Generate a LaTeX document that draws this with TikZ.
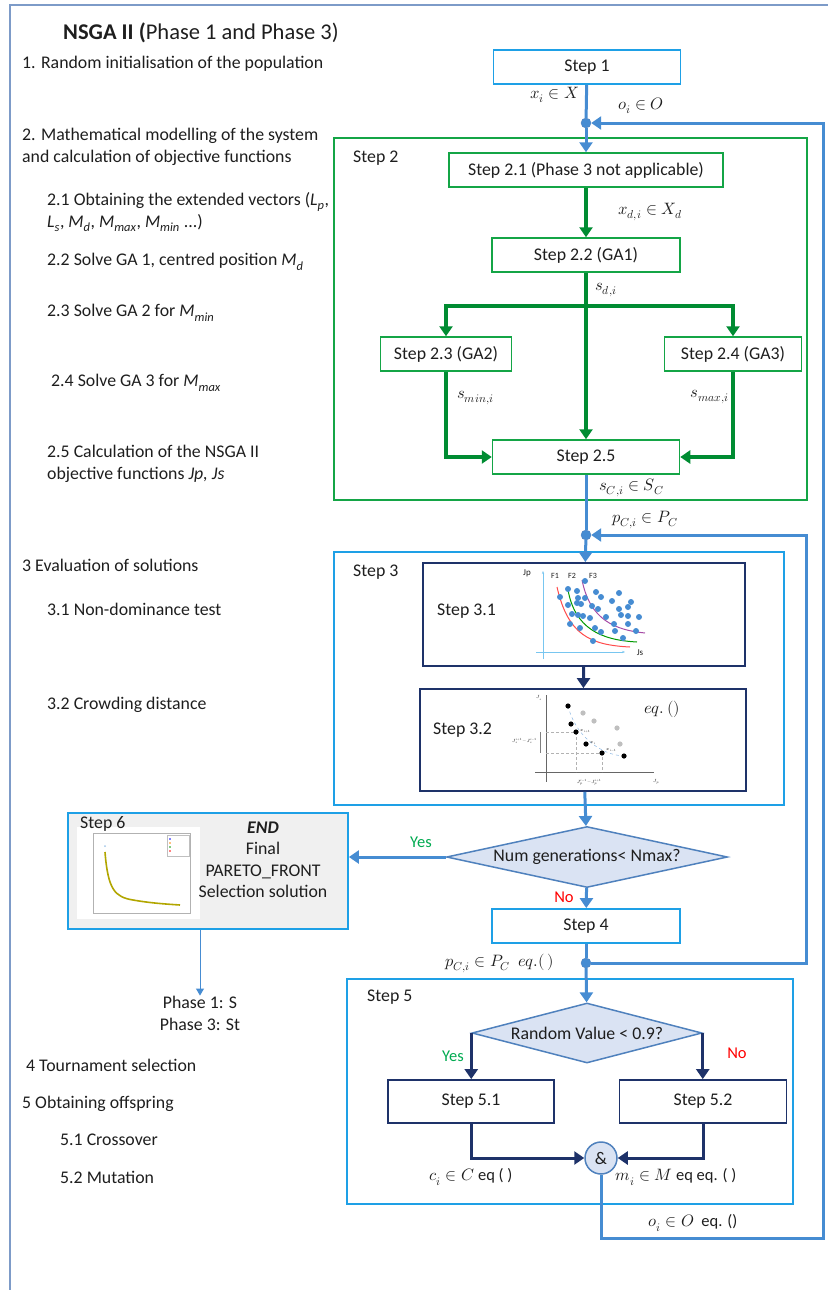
\documentclass[tikz,border=0pt]{standalone}
\usepackage{fontspec}
\setmainfont{Carlito}
\usepackage{unicode-math}
\usetikzlibrary{arrows.meta,shapes.geometric,positioning}

\definecolor{flowblue}{RGB}{70,140,210}
\definecolor{stepblue}{RGB}{30,160,230}
\definecolor{navy}{RGB}{30,50,105}
\definecolor{stepgreen}{RGB}{20,165,70}
\definecolor{arrowgreen}{RGB}{0,140,50}
\definecolor{decfill}{RGB}{218,227,243}
\definecolor{decblue}{RGB}{79,129,189}
\definecolor{framecol}{RGB}{125,155,200}
\definecolor{endgray}{RGB}{240,240,240}
\definecolor{textgray}{RGB}{30,30,30}
\definecolor{yesgreen}{RGB}{0,170,80}

\newcommand{\itsub}[2]{\textit{#1}\textsubscript{\textit{#2}}}

\begin{document}
\begin{tikzpicture}
  [x=1pt, y=-1pt, font=\fontsize{17.8}{22}\selectfont, text=textgray,
   item/.style={anchor=west, inner sep=0pt, align=left},
   bluebox/.style={draw=stepblue, line width=1.8pt, fill=white, minimum height=34pt},
   greenbox/.style={draw=stepgreen, line width=1.5pt, fill=white, minimum height=34pt},
   navybox/.style={draw=navy, line width=1.8pt, fill=white},
   decision/.style={diamond, draw=decblue, line width=1.5pt, fill=decfill, inner sep=1pt},
   jdot/.style={circle, fill=flowblue, draw=decblue, inner sep=0pt, minimum size=10pt},
   flow/.style={draw=flowblue, line width=3pt, -{Triangle[width=13pt,length=10pt]}},
   plain/.style={draw=flowblue, line width=3pt},
   gflow/.style={draw=arrowgreen, line width=3.5pt, -{Triangle[width=13pt,length=10pt]}},
   nflow/.style={draw=navy, line width=3pt, -{Triangle[width=13pt,length=10pt]}},
   lbl/.style={inner sep=1pt, font=\fontsize{16.5}{19}\selectfont},
   tiny/.style={font=\fontsize{4.5}{5}\selectfont, inner sep=0pt}]
  \useasboundingbox (0,0) rectangle (828,1290);

  % outer frame
  \draw[framecol, line width=1.5pt] (10,1290) -- (10,5) -- (828,5);

  % left column
  \node[item, font=\fontsize{22.5}{26}\selectfont] (title) at (63,33) {\textbf{NSGA II (}Phase 1 and Phase 3)};
  \node[item] (t1) at (22,64) {1. Random initialisation of the population};
  \node[item] (t2) at (22,147) {2. Mathematical modelling of the system\\and calculation of objective functions};
  \node[item] (t21) at (47,212) {2.1 Obtaining the extended vectors (\itsub{L}{p},\\\itsub{L}{s}, \itsub{M}{d}, \itsub{M}{max}, \itsub{M}{min} ...)};
  \node[item] (t22) at (47,262) {2.2 Solve GA 1, centred position \itsub{M}{d}};
  \node[item] (t23) at (47,313) {2.3 Solve GA 2 for \itsub{M}{min}};
  \node[item] (t24) at (51,383) {2.4 Solve GA 3 for \itsub{M}{max}};
  \node[item] (t25) at (47,464) {2.5 Calculation of the NSGA II\\objective functions \textit{Jp, Js}};
  \node[item] (t3) at (22,565) {3 Evaluation of solutions};
  \node[item] (t31) at (47,609) {3.1 Non-dominance test};
  \node[item] (t32) at (47,705) {3.2 Crowding distance};
  \node[align=center, inner sep=0pt] (phase) at (200,1013) {Phase 1: S\\Phase 3: St};
  \node[item] (t4) at (26,1065) {4 Tournament selection};
  \node[item] (t5) at (22,1104) {5 Obtaining offspring};
  \node[item] (t51) at (60,1140) {5.1 Crossover};
  \node[item] (t52) at (60,1177) {5.2 Mutation};

  % containers
  \draw[stepgreen, line width=1.5pt] (334,138) rectangle (807,500);
  \node[item] (c2) at (353,158) {Step 2};
  \draw[stepblue, line width=1.8pt] (334,552) rectangle (784,805);
  \node[item] (c3) at (353,572) {Step 3};
  \draw[stepblue, line width=1.8pt] (347,979) rectangle (793,1204);
  \node[item] (c5) at (367,997) {Step 5};

  % steps
  \node[bluebox, minimum width=187pt] (s1) at (587,67) {Step 1};
  \node[jdot] (d1) at (586,123) {};
  \node[greenbox, minimum width=274pt] (s21) at (586,170) {Step 2.1 (Phase 3 not applicable)};
  \node[greenbox, minimum width=188pt] (s22) at (586,255) {Step 2.2 (GA1)};
  \coordinate (fork) at (586,306);
  \node[greenbox, minimum width=131pt] (s23) at (446,354) {Step 2.3 (GA2)};
  \node[greenbox, minimum width=137pt] (s24) at (733,354) {Step 2.4 (GA3)};
  \node[greenbox, minimum width=187pt] (s25) at (586,457) {Step 2.5};
  \node[jdot] (d2) at (586,535) {};
  \node[navybox, minimum width=322pt, minimum height=103pt] (s31) at (584,614.5) {};
  \node[item] (s31t) at (437,611) {Step 3.1};
  \node[navybox, minimum width=326pt, minimum height=102pt] (s32) at (583,740) {};
  \node[item] (s32t) at (433,730) {Step 3.2};
  \node[lbl] (eq32) at (662,709) {$eq.\,()$};
  \node[decision, aspect=4.6, minimum width=281pt, minimum height=61pt] (dec1) at (587,857) {Num generations< Nmax?};
  \node[draw=stepblue, line width=1.8pt, fill=endgray, minimum width=280pt, minimum height=116pt] (s6) at (208,871) {};
  \node[bluebox, minimum width=188pt] (s4) at (586,926) {Step 4};
  \node[jdot] (d3) at (586,963) {};
  \node[decision, aspect=3.8, minimum width=230pt, minimum height=60pt] (dec2) at (587,1033) {Random Value < 0.9?};
  \node[navybox, minimum width=166pt, minimum height=43pt] (s51) at (471,1101.5) {Step 5.1};
  \node[navybox, minimum width=167pt, minimum height=43pt] (s52) at (703,1101.5) {Step 5.2};
  \node[circle, draw=decblue, line width=1.5pt, fill=decfill, minimum size=32pt, inner sep=0pt] (amp) at (601,1158) {\&};
  \coordinate (loopO) at (823,1238);
  \coordinate (loopP) at (806,963);

  % chart in step 6
  \fill[white] (77,827) rectangle (200,919);
  \draw[gray!60, line width=0.4pt] (93,833) rectangle (190,913);
  \draw[gray!50, line width=0.4pt] (167,835) rectangle (189,856);
  \foreach \ly/\lc in {839/blue,843/orange,847/green!60!black,851/red}
    \fill[\lc] (170,\ly) circle (0.8pt);
  \draw[orange!70!green, line width=1.6pt] (105,852) .. controls (108,890) and (115,897) .. (133,900)
    .. controls (150,903) and (165,904) .. (180,905);
  \fill[flowblue!50] (105,846) circle (1pt);
  \node[item] (s6t) at (80,824) {Step 6};
  \node[align=center, inner sep=0pt, font=\fontsize{17.8}{21.5}\selectfont] (endt) at (263,860)
    {\textbf{\textit{END}}\\Final\\PARETO\_FRONT\\Selection solution};

  % connectors
  \draw[plain] (s1) -- (d1);
  \draw[flow] (d1) -- (s21);
  \draw[gflow] (s21) -- (s22);
  \draw[gflow] (s22) -- (s25);
  \draw[gflow] (fork) -| (s23);
  \draw[gflow] (fork) -| (s24);
  \draw[gflow] (s23) |- (s25);
  \draw[gflow] (s24) |- (s25);
  \draw[plain] (s25) -- (d2);
  \draw[flow] (d2) -- (s31);
  \draw[nflow] (s31) -- (s32);
  \draw[flow] (s32) -- (dec1);
  \draw[flow] (dec1.west) -- (dec1.west -| s6.east);
  \draw[flow] (dec1) -- (s4);
  \draw[plain] (s4) -- (d3);
  \draw[flow] (d3) -- (dec2);
  \draw[flow] (d3) -- (loopP) |- (d2);
  \draw[nflow] (dec2.west) -- (dec2.west |- s51.north);
  \draw[nflow] (dec2.east) -- (dec2.east |- s52.north);
  \draw[nflow] (s51) |- (amp);
  \draw[nflow] (s52) |- (amp);
  \draw[flow] (amp.south) |- (loopO) |- (d1);
  \draw[draw=flowblue, line width=1pt, -{Triangle[width=8pt,length=7pt]}] (s6.south -| phase) -- (phase);

  % labels
  \node[lbl, anchor=east] (lx) at (580,95) {$x_i\in X$};
  \node[lbl, anchor=west] (lo) at (617,106) {$o_i\in O$};
  \node[lbl, anchor=west] (lxd) at (617,212) {$x_{d,i}\in X_d$};
  \node[lbl, anchor=west] (lsd) at (594,290) {$s_{d,i}$};
  \node[lbl, anchor=west] (lsmin) at (456,398) {$s_{min,i}$};
  \node[lbl, anchor=east] (lsmax) at (730,397) {$s_{max,i}$};
  \node[lbl, anchor=west] (lsc) at (598,488) {$s_{C,i}\in S_C$};
  \node[lbl, anchor=west] (lpc) at (611,520) {$p_{C,i}\in P_C$};
  \node[lbl, anchor=east] (lpc2) at (555,963) {$p_{C,i}\in P_C\ \ eq.(\,)$};
  \node[lbl] (lc) at (471,1177) {$c_i\in C$ eq ( )};
  \node[lbl] (lm) at (676,1177) {$m_i\in M$ eq eq. ( )};
  \node[lbl] (lo2) at (693,1223) {$o_i\in O$ \ eq. ()};
  \node[lbl, text=yesgreen] (yes1) at (421,842) {Yes};
  \node[lbl, text=red] (no1) at (564,897) {No};
  \node[lbl, text=yesgreen] (yes2) at (453,1056) {Yes};
  \node[lbl, text=red] (no2) at (737,1053) {No};

  % chart in step 3.1
  \draw[stepblue!60, line width=0.6pt, -{Stealth[length=3pt]}] (543,659) -- (543,571);
  \draw[stepblue!60, line width=0.6pt, -{Stealth[length=3pt]}] (536,652) -- (625,652);
  \node[font=\fontsize{9}{10}\selectfont] (jp) at (527,573) {Jp};
  \node[font=\fontsize{9}{10}\selectfont] (js) at (640,653) {Js};
  \node[font=\fontsize{8}{9}\selectfont] (f1) at (555,576) {F1};
  \node[font=\fontsize{8}{9}\selectfont] (f2) at (572,576) {F2};
  \node[font=\fontsize{8}{9}\selectfont] (f3) at (593,576) {F3};
  \draw[red!70, line width=1pt] (557,587) .. controls (568,635) and (590,645) .. (630,647);
  \draw[green!60!black, line width=1pt] (568,590) .. controls (575,628) and (600,640) .. (637,642);
  \draw[violet!70, line width=1pt] (582,580) .. controls (590,620) and (615,630) .. (645,633);
  \foreach \px/\py in {568/589,577/591,596/592,619/593,560/597,578/598,585/598,601/597,612/601,631/602,
    568/605,577/603,581/604,592/606,598/609,619/609,628/607,572/614,578/615,583/616,590/618,606/617,
    621/615,628/616,639/617,570/624,580/628,595/628,614/624,628/624,601/632,615/631,636/631,623/638,593/641,585/581}
    \fill[flowblue] (\px,\py) circle (3pt);

  % chart in step 3.2
  \draw[gray!80!black, line width=1pt] (546,695) -- (546,782);
  \draw[gray!80!black, line width=1pt] (535,772) -- (654,772);
  \draw[flowblue!60, dashed, line width=0.5pt] (568,706) .. controls (575,735) and (600,755) .. (624,756);
  \draw[gray!60, densely dashed, line width=0.5pt] (546,732) -- (576,732) -- (576,772);
  \draw[gray!60, densely dashed, line width=0.5pt] (546,753) -- (602,753) -- (602,772);
  \draw[gray, line width=0.5pt] (540,732) -- (540,753);
  \foreach \px/\py in {583/713,594/721,617/728,620/744}
    \fill[gray!50] (\px,\py) circle (2.6pt);
  \foreach \px/\py in {568/706,571/724,576/732,586/744,602/753,624/756}
    \fill[black] (\px,\py) circle (2.6pt);
  \node[tiny] (js2) at (539,698) {$J_s$};
  \node[tiny] (jp2) at (656,782) {$J_p$};
  \node[tiny, anchor=west] (xa) at (580,731) {$x_{i+1}$};
  \node[tiny, anchor=west] (xb) at (590,743) {$x_i$};
  \node[tiny, anchor=west] (xc) at (606,750) {$x_{i-1}$};
  \node[tiny, anchor=east] (djs) at (537,741) {$J_s^{i+1}\!-\!J_s^{i-1}$};
  \node[tiny] (djp) at (589,782) {$J_p^{i-1}\!-\!J_p^{i+1}$};
\end{tikzpicture}
\end{document}
